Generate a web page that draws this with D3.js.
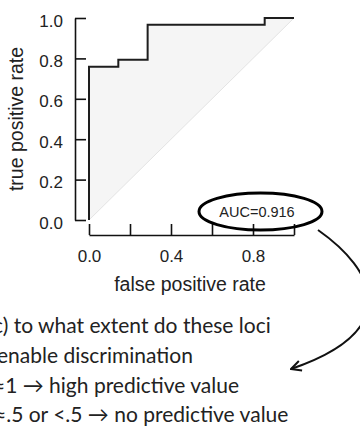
<!DOCTYPE html>
<html>
<head>
<meta charset="utf-8">
<script src="https://cdn.jsdelivr.net/npm/d3@7"></script>
<style>
  html, body { margin: 0; padding: 0; background: #fff; }
  svg { display: block; }
</style>
</head>
<body>
<svg id="chart" width="360" height="430"></svg>
<script>
// ROC curve data (false positive rate, true positive rate)
const fpr = [0, 0, 0.143, 0.143, 0.286, 0.286, 0.857, 0.857, 1];
const tpr = [0, 0.759, 0.759, 0.793, 0.793, 0.966, 0.966, 1, 1];
const aucLabel = "AUC=0.916";
const xTicks = [0, 0.2, 0.4, 0.6, 0.8, 1];
const xTickLabels = ["0.0", "", "0.4", "", "0.8", ""];
const yTicks = [0, 0.2, 0.4, 0.6, 0.8, 1];
const yTickLabels = ["0.0", "0.2", "0.4", "0.6", "0.8", "1.0"];
const xTitle = "false positive rate";
const yTitle = "true positive rate";
const noteLines = [
  "c) to what extent do these loci",
  "enable discrimination",
  "≈1 → high predictive value",
  "≈.5 or <.5 → no predictive value"
];

const svg = d3.select("#chart");
const x = d3.scaleLinear().domain([0, 1]).range([89, 294]);
const y = d3.scaleLinear().domain([0, 1]).range([220, 18]);
const axisFont = "'Liberation Sans', Arial, sans-serif";

// shaded region between ROC curve and diagonal
const pts = fpr.map((f, i) => [f, tpr[i]]);
const poly = pts.concat([[0, 0]]);
svg.append("path")
  .attr("d", d3.line().x(d => x(d[0])).y(d => y(d[1]))(poly) + "Z")
  .attr("fill", "#f5f5f5")
  .attr("stroke", "none");
svg.append("line")
  .attr("x1", x(0)).attr("y1", y(0)).attr("x2", x(1)).attr("y2", y(1))
  .attr("stroke", "#e4e4e4").attr("stroke-width", 1);

// ROC line
svg.append("path")
  .attr("d", d3.line().x(d => x(d[0])).y(d => y(d[1]))(pts))
  .attr("fill", "none")
  .attr("stroke", "#1e1e1e")
  .attr("stroke-width", 2);

// axes
const yAxis = d3.axisLeft(y)
  .tickValues(yTicks)
  .tickFormat((d, i) => yTickLabels[i])
  .tickSizeInner(-11).tickSizeOuter(0).tickPadding(12);
const gy = svg.append("g").attr("transform", "translate(75,0)").call(yAxis);
gy.selectAll("text").attr("dy", "0.48em");

const xAxis = d3.axisBottom(x)
  .tickValues(xTicks)
  .tickFormat((d, i) => xTickLabels[i])
  .tickSizeInner(-11).tickSizeOuter(0).tickPadding(15);
const gx = svg.append("g").attr("transform", "translate(0,235)").call(xAxis);

[gx, gy].forEach(g => {
  g.selectAll(".domain").attr("stroke", "#111").attr("stroke-width", 1.6);
  g.selectAll(".tick line").attr("stroke", "#111").attr("stroke-width", 1.6);
  g.selectAll("text").attr("font-family", axisFont).attr("font-size", 17).attr("fill", "#222");
});

// axis titles
svg.append("text")
  .attr("x", 190).attr("y", 291)
  .attr("text-anchor", "middle")
  .attr("font-family", axisFont).attr("font-size", 19.5).attr("fill", "#222")
  .text(xTitle);
svg.append("text")
  .attr("transform", "translate(23,119) rotate(-90)")
  .attr("text-anchor", "middle")
  .attr("font-family", axisFont).attr("font-size", 19.5).attr("fill", "#222")
  .text(yTitle);

// AUC annotation
svg.append("ellipse")
  .attr("cx", 260.5).attr("cy", 211.5).attr("rx", 61.5).attr("ry", 18.5)
  .attr("fill", "none").attr("stroke", "#000").attr("stroke-width", 3);
svg.append("text")
  .attr("x", 257).attr("y", 216.5)
  .attr("text-anchor", "middle")
  .attr("font-family", axisFont).attr("font-size", 14.5).attr("fill", "#222")
  .text(aucLabel);

// curved arrow
const defs = svg.append("defs");
defs.append("marker")
  .attr("id", "ah").attr("viewBox", "0 0 12 12")
  .attr("refX", 11).attr("refY", 6)
  .attr("markerWidth", 12).attr("markerHeight", 12)
  .attr("markerUnits", "userSpaceOnUse")
  .attr("orient", "auto")
  .append("path").attr("d", "M1,1 L11,6 L1,11")
  .attr("fill", "none").attr("stroke", "#111").attr("stroke-width", 2);
svg.append("path")
  .attr("d", "M318,230 C375,270 405,330 291,369")
  .attr("fill", "none").attr("stroke", "#111").attr("stroke-width", 2)
  .attr("marker-end", "url(#ah)");

// note text
const noteX = [-7, -3, -7, -6];
const noteY = [333, 363, 393, 422];
svg.selectAll("text.note")
  .data(noteLines)
  .enter().append("text")
  .attr("class", "note")
  .attr("x", (d, i) => noteX[i])
  .attr("y", (d, i) => noteY[i])
  .attr("font-family", "Lato, 'Open Sans', sans-serif")
  .attr("font-size", 21)
  .attr("fill", "#222")
  .text(d => d);
</script>
</body>
</html>
